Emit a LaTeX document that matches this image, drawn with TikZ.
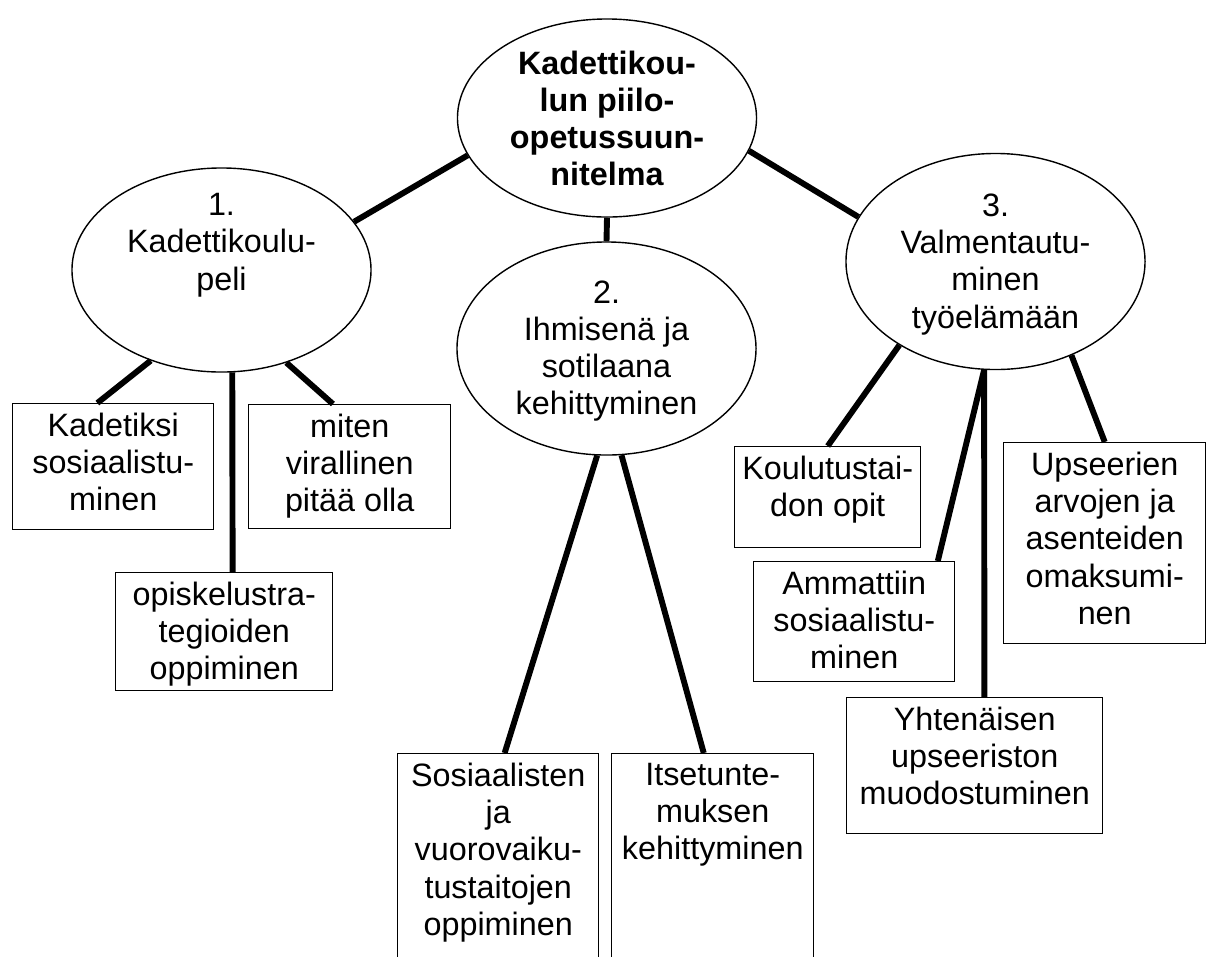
\documentclass[tikz,border=0pt]{standalone}
\usepackage{fontspec}
\setmainfont{Liberation Sans}
\usetikzlibrary{shapes.geometric, positioning}

\begin{document}
\begin{tikzpicture}[
			x=0.025cm, y=-0.025cm,
			oval/.style={ellipse, draw, line width=1pt, inner sep=0pt, minimum width=7.475cm},
			leaf/.style={rectangle, draw, line width=1pt, inner sep=0pt, anchor=north west},
			txt/.style={anchor=north, align=center, inner sep=0pt, font=\fontsize{23}{26.4}\selectfont},
			title/.style={txt, font=\fontsize{23}{26.4}\selectfont\bfseries},
			link/.style={line width=4.2pt}
		]
		\useasboundingbox (0,0) rectangle (1209,956);
		\clip (0,0) rectangle (1209,956);
		
		% Main themes
		\node[oval, minimum height=4.95cm] (root) at (607,118) {};
		\node[oval, minimum height=5.1cm] (game) at (221.5,270) {};
		\node[oval, minimum height=5.325cm] (growth) at (606.5,348.5) {};
		\node[oval, minimum height=5.4cm] (career) at (995.5,261.5) {};
		
		% Theme texts
		\node[title] (root_t) at ([yshift=-0.8cm]root.north) {Kadettikou-\\lun piilo-\\opetussuun-\\nitelma};
		\node[txt] (game_t) at ([yshift=-0.65cm]game.north) {1.\\Kadettikoulu-\\peli};
		\node[txt] (growth_t) at ([yshift=-0.975cm]growth.north) {2.\\Ihmisenä ja\\sotilaana\\kehittyminen};
		\node[txt] (career_t) at ([yshift=-1.025cm]career.north) {3.\\Valmentautu-\\minen\\työelämään};
		
		% Sub-theme boxes
		\node[leaf, minimum width=5.025cm, minimum height=3.15cm] (socialize) at (12,403) {};
		\node[leaf, minimum width=5.05cm, minimum height=3.1cm] (official) at (248,404) {};
		\node[leaf, minimum width=5.425cm, minimum height=2.95cm] (study) at (115,572) {};
		\node[leaf, minimum width=5.025cm, minimum height=6cm] (social) at (397,753) {};
		\node[leaf, minimum width=5.05cm, minimum height=6cm] (selfknow) at (611,753) {};
		\node[leaf, minimum width=4.65cm, minimum height=2.525cm] (teach) at (734,446) {};
		\node[leaf, minimum width=5.025cm, minimum height=3cm] (profession) at (753,561) {};
		\node[leaf, minimum width=6.4cm, minimum height=3.4cm] (unity) at (846,697) {};
		\node[leaf, minimum width=5.05cm, minimum height=5.025cm] (values) at (1003,442) {};
		
		% Sub-theme texts
		\node[txt] (socialize_t) at ([yshift=-0.25cm]socialize.north) {Kadetiksi\\sosiaalistu-\\minen};
		\node[txt] (official_t) at ([yshift=-0.25cm]official.north) {miten\\virallinen\\pitää olla};
		\node[txt] (study_t) at ([yshift=-0.25cm]study.north) {opiskelustra-\\tegioiden\\oppiminen};
		\node[txt] (social_t) at ([yshift=-0.25cm]social.north) {Sosiaalisten\\ja\\vuorovaiku-\\tustaitojen\\oppiminen};
		\node[txt] (selfknow_t) at ([yshift=-0.25cm]selfknow.north) {Itsetunte-\\muksen\\kehittyminen};
		\node[txt] (teach_t) at ([yshift=-0.25cm]teach.north) {Koulutustai-\\don opit};
		\node[txt] (profession_t) at ([yshift=-0.25cm]profession.north) {Ammattiin\\sosiaalistu-\\minen};
		\node[txt] (unity_t) at ([yshift=-0.25cm]unity.north) {Yhtenäisen\\upseeriston\\muodostuminen};
		\node[txt] (values_t) at ([yshift=-0.25cm]values.north) {Upseerien\\arvojen ja\\asenteiden\\omaksumi-\\nen};
		
		% Connectors
		\draw[link] (root.195) -- (game.20);
		\draw[link] (root.south) -- (growth.north);
		\draw[link] (root.347) -- (career.162);
		\draw[link] (game.232) -- (socialize.104);
		\draw[link] (game.276) -- (study.82);
		\draw[link] (game.305) -- (official.105);
		\draw[link] (growth.265) -- ([xshift=0.16cm]social.north);
		\draw[link] (growth.278) -- ([xshift=-0.225cm]selfknow.north);
		\draw[link] (career.221) -- (teach.north);
		\draw[link] (career.264) -- (profession.36);
		\draw[link] (career.264) -- (unity.82);
		\draw[link] (career.309) -- (values.north);
		\end{tikzpicture}
\end{document}
